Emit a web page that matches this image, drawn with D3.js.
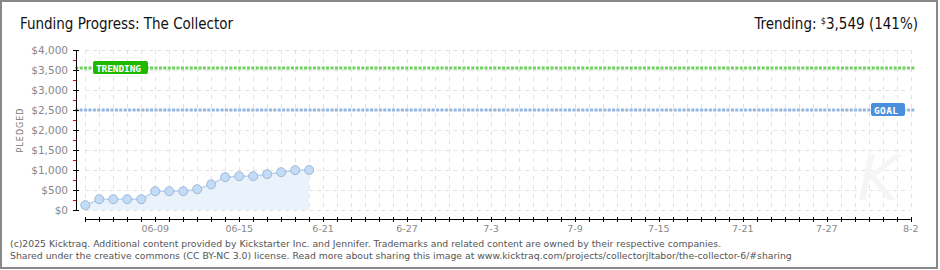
<!DOCTYPE html>
<html>
<head>
<meta charset="utf-8">
<script src="https://cdn.jsdelivr.net/npm/d3@7"></script>
<style>
  body { margin: 0; background: #fff; }
  svg { display: block; }
</style>
</head>
<body>
<svg></svg>
<script>
const [WIDTH, HEIGHT] = [940, 270]

// daily pledged totals
const dates = ['2025-06-04', '2025-06-05', '2025-06-06', '2025-06-07', '2025-06-08', '2025-06-09',
    '2025-06-10', '2025-06-11', '2025-06-12', '2025-06-13', '2025-06-14', '2025-06-15',
    '2025-06-16', '2025-06-17', '2025-06-18', '2025-06-19', '2025-06-20']
const pledged = [120, 270, 270, 270, 270, 470, 470, 470, 520, 640, 820, 845, 845, 895, 945, 995, 1000]
const goal = 2500
const trending = 3549
const yTicks = [0, 500, 1000, 1500, 2000, 2500, 3000, 3500, 4000]
const xLabelDates = ['2025-06-09', '2025-06-15', '2025-06-21', '2025-06-27', '2025-07-03',
    '2025-07-09', '2025-07-15', '2025-07-21', '2025-07-27', '2025-08-02']
const xLabels = ['06-09', '06-15', '6-21', '6-27', '7-3', '7-9', '7-15', '7-21', '7-27', '8-2']
const footer = [
    '(c)2025 Kicktraq. Additional content provided by Kickstarter Inc. and Jennifer. Trademarks and related content are owned by their respective companies.',
    'Shared under the creative commons (CC BY-NC 3.0) license. Read more about sharing this image at www.kicktraq.com/projects/collectorjltabor/the-collector-6/#sharing'
]

const parse = d3.timeParse('%Y-%m-%d')
const PLOT = { left: 85.3, right: 910.7, top: 50, bottom: 210 }

const svg = d3.select('svg')
    .attr('width', WIDTH)
    .attr('height', HEIGHT)

svg.append('rect')
    .attr('x', 1).attr('y', 1)
    .attr('width', 936).attr('height', 267)
    .attr('fill', '#fff')
    .attr('stroke', '#888')
    .attr('stroke-width', 2)

const x = d3.scaleTime()
    .domain([parse('2025-06-04'), parse('2025-08-02')])
    .range([PLOT.left, PLOT.right])
const y = d3.scaleLinear()
    .domain([0, 4000])
    .range([PLOT.bottom, PLOT.top])

const allDays = d3.timeDay.range(parse('2025-06-04'), d3.timeDay.offset(parse('2025-08-02'), 1))

// grid
const grid = svg.append('g')
grid.selectAll('line.v')
    .data(allDays)
    .join('line')
    .attr('x1', d => Math.round(x(d)) + 0.5)
    .attr('x2', d => Math.round(x(d)) + 0.5)
    .attr('y1', PLOT.top)
    .attr('y2', PLOT.bottom)
    .attr('stroke', '#e2e2e2')
    .attr('stroke-dasharray', '4,5')
grid.selectAll('line.h')
    .data(yTicks)
    .join('line')
    .attr('x1', PLOT.left)
    .attr('x2', PLOT.right)
    .attr('y1', d => y(d) + 0.5)
    .attr('y2', d => y(d) + 0.5)
    .attr('stroke', '#e2e2e2')
    .attr('stroke-dasharray', '4,4')

// watermark
svg.append('text')
    .attr('x', 878).attr('y', 200)
    .attr('text-anchor', 'middle')
    .attr('font-family', 'DejaVu Sans')
    .attr('font-style', 'italic')
    .attr('font-weight', 300)
    .attr('font-size', 62)
    .attr('fill', '#f5f5f5')
    .text('K')

// area + line + points
const pts = dates.map((d, i) => ({ date: parse(d), v: pledged[i] }))
svg.append('path')
    .datum(pts)
    .attr('fill', '#eaf2fc')
    .attr('d', d3.area().x(d => x(d.date)).y0(y(0)).y1(d => y(d.v)))
svg.append('path')
    .datum(pts)
    .attr('fill', 'none')
    .attr('stroke', '#b9d4f2')
    .attr('stroke-width', 1.5)
    .attr('d', d3.line().x(d => x(d.date)).y(d => y(d.v)))
svg.append('g')
    .selectAll('circle')
    .data(pts)
    .join('circle')
    .attr('cx', d => x(d.date))
    .attr('cy', d => y(d.v))
    .attr('r', 4.5)
    .attr('fill', '#c2dbf6')
    .attr('stroke', '#9fb8d6')
    .attr('stroke-width', 1)

// goal and trending lines
function refLine(val, color, label, boxColor, boxX, boxW) {
    svg.append('line')
        .attr('x1', PLOT.left - 10).attr('x2', PLOT.right + 4)
        .attr('y1', y(val)).attr('y2', y(val))
        .attr('stroke', color)
        .attr('stroke-width', 3)
        .attr('stroke-dasharray', '3,1.4')
    svg.append('rect')
        .attr('x', boxX).attr('y', y(val) - 7)
        .attr('width', boxW).attr('height', 13)
        .attr('rx', 2)
        .attr('fill', boxColor)
    svg.append('text')
        .attr('x', boxX + 3).attr('y', y(val) + 3.5)
        .attr('font-family', 'DejaVu Sans Mono')
        .attr('font-weight', 'bold')
        .attr('font-size', 9.5)
        .attr('fill', '#fff')
        .attr('textLength', boxW - 10)
        .text(label)
}
refLine(trending, '#6fcf5f', 'TRENDING', '#1fb800', 93, 55)
refLine(goal, '#93b6e2', 'GOAL', '#4a8fdc', 871, 34)

// y axis
const yAxis = svg.append('g')
yAxis.append('line')
    .attr('x1', 76.5).attr('x2', 76.5)
    .attr('y1', PLOT.top).attr('y2', PLOT.bottom + 1)
    .attr('stroke', '#000')
yAxis.selectAll('line.minor')
    .data(d3.range(250, 4000, 500))
    .join('line')
    .attr('x1', 73).attr('x2', 76)
    .attr('y1', d => y(d) + 0.5).attr('y2', d => y(d) + 0.5)
    .attr('stroke', '#e00000')
yAxis.selectAll('line.major')
    .data(yTicks)
    .join('line')
    .attr('x1', 73).attr('x2', 79)
    .attr('y1', d => y(d) + 0.5).attr('y2', d => y(d) + 0.5)
    .attr('stroke', '#000')
yAxis.selectAll('text')
    .data(yTicks)
    .join('text')
    .attr('x', 68)
    .attr('y', d => y(d) + 4)
    .attr('text-anchor', 'end')
    .attr('font-family', 'DejaVu Sans')
    .attr('font-size', 10.5)
    .attr('fill', '#888')
    .text(d => d3.format('$,')(d))

svg.append('text')
    .attr('transform', 'translate(23,130) rotate(-90)')
    .attr('text-anchor', 'middle')
    .attr('font-family', 'DejaVu Sans')
    .attr('font-size', 8)
    .attr('letter-spacing', 1)
    .attr('fill', '#777')
    .text('PLEDGED')

// x axis
const xAxisY = 219.5
const xAxis = svg.append('g')
xAxis.append('line')
    .attr('x1', PLOT.left).attr('x2', PLOT.right)
    .attr('y1', xAxisY).attr('y2', xAxisY)
    .attr('stroke', '#000')
xAxis.selectAll('line.tick')
    .data(allDays)
    .join('line')
    .attr('x1', d => Math.round(x(d)) + 0.5)
    .attr('x2', d => Math.round(x(d)) + 0.5)
    .attr('y1', xAxisY - 2.5).attr('y2', xAxisY + 2.5)
    .attr('stroke', '#000')
xAxis.selectAll('text')
    .data(xLabelDates)
    .join('text')
    .attr('x', d => x(parse(d)))
    .attr('y', 232)
    .attr('text-anchor', 'middle')
    .attr('font-family', 'DejaVu Sans')
    .attr('font-size', 9.5)
    .attr('fill', '#888')
    .text((d, i) => xLabels[i])

// titles
svg.append('text')
    .attr('x', 20).attr('y', 29)
    .attr('font-family', 'DejaVu Sans Condensed, DejaVu Sans')
    .attr('font-size', 15)
    .attr('fill', '#111')
    .attr('textLength', 213)
    .text('Funding Progress: The Collector')

const tr = svg.append('text')
    .attr('x', 918).attr('y', 29)
    .attr('text-anchor', 'end')
    .attr('font-family', 'DejaVu Sans Condensed, DejaVu Sans')
    .attr('font-size', 15)
    .attr('fill', '#111')
tr.append('tspan').text('Trending: ')
tr.append('tspan').attr('font-size', 9).attr('dy', -5).text('$')
tr.append('tspan').attr('dy', 5).text(d3.format(',')(trending) + ' (141%)')

// footer
svg.append('g')
    .selectAll('text')
    .data(footer)
    .join('text')
    .attr('x', 10)
    .attr('y', (d, i) => 247 + i * 12)
    .attr('font-family', 'DejaVu Sans')
    .attr('font-size', 9.3)
    .attr('fill', '#555')
    .text(d => d)
</script>
</body>
</html>
